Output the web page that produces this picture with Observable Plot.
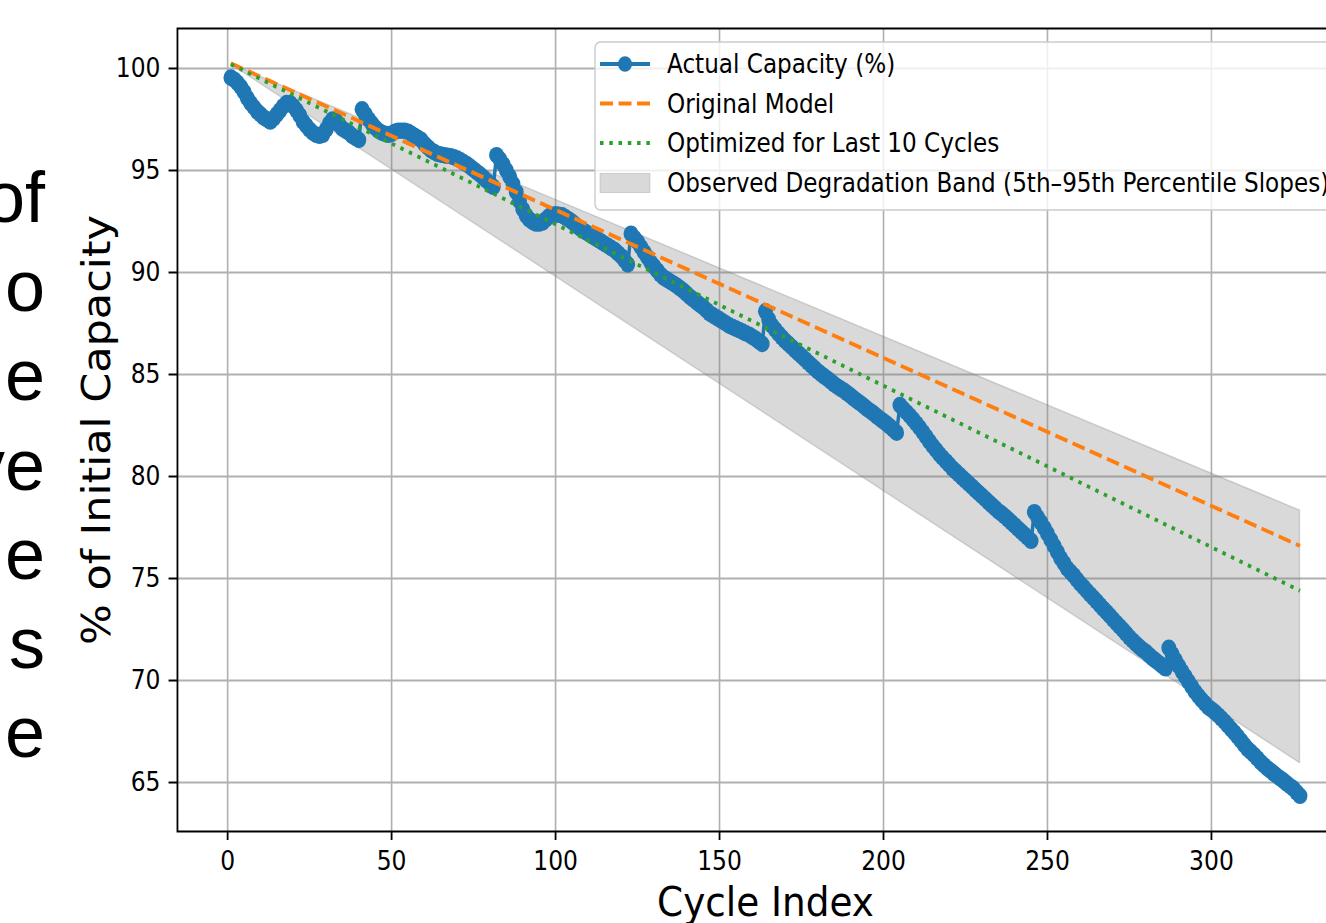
<!DOCTYPE html>
<html>
<head>
<meta charset="utf-8">
<script src="https://cdn.jsdelivr.net/npm/d3@7"></script>
<script src="https://cdn.jsdelivr.net/npm/@observablehq/plot@0.6"></script>
<style>
  html, body { margin: 0; padding: 0; width: 1326px; height: 923px; overflow: hidden; background: #fff; }
  #wrap { position: absolute; left: 0; top: 0; transform-origin: 0 0; }
  #legend, #frag { position: absolute; left: 0; top: 0; }
</style>
</head>
<body>
<svg id="frag" width="60" height="923"></svg>
<div id="wrap"></div>
<script>
// ---------- data ----------
const xTicks = [0, 50, 100, 150, 200, 250, 300];
const yTicks = [65, 70, 75, 80, 85, 90, 95, 100];

// Actual capacity (%) for cycles 1..327, one value per cycle, in 8 stretches of ~41 cycles
const capacitySeg1 = [99.55,99.45,99.3,99.1,98.85,98.55,98.3,98.1,97.9,97.75,97.6,97.5,97.4,97.55,97.75,97.95,98.15,98.3,98.3,98.15,
  97.95,97.7,97.4,97.2,97.0,96.85,96.75,96.7,96.75,97.0,97.3,97.5,97.45,97.25,97.05,96.95,96.85,96.7,96.6,96.5];
const capacitySeg2 = [98.0,97.75,97.5,97.3,97.1,96.95,96.85,96.8,96.75,96.8,96.9,96.95,96.95,96.95,96.9,96.8,96.7,96.6,96.5,96.3,
  96.15,96.0,95.9,95.82,95.78,95.75,95.72,95.7,95.65,95.58,95.5,95.4,95.3,95.18,95.05,94.92,94.8,94.65,94.5,94.35,94.2];
const capacitySeg3 = [95.75,95.55,95.3,95.0,94.7,94.35,93.95,93.5,93.1,92.8,92.6,92.48,92.4,92.4,92.45,92.6,92.75,92.82,92.85,92.83,
  92.8,92.7,92.6,92.48,92.35,92.22,92.1,92.0,91.9,91.8,91.7,91.6,91.5,91.4,91.3,91.2,91.1,90.95,90.8,90.6,90.4];
const capacitySeg4 = [91.9,91.7,91.5,91.25,91.0,90.75,90.5,90.3,90.1,89.9,89.75,89.65,89.55,89.45,89.35,89.22,89.1,88.95,88.8,88.68,
  88.55,88.42,88.3,88.15,88.0,87.9,87.8,87.7,87.6,87.5,87.4,87.32,87.25,87.18,87.1,87.02,86.95,86.85,86.75,86.62,86.5];
const capacitySeg5 = [88.1,87.7,87.4,87.2,87.0,86.82,86.65,86.5,86.35,86.2,86.05,85.9,85.75,85.6,85.45,85.3,85.15,85.02,84.9,84.78,
  84.65,84.52,84.4,84.3,84.2,84.08,83.95,83.82,83.7,83.58,83.45,83.32,83.2,83.08,82.95,82.82,82.7,82.58,82.45,82.3,82.15];
const capacitySeg6 = [83.5,83.32,83.15,82.98,82.8,82.6,82.4,82.18,81.95,81.72,81.5,81.3,81.1,80.92,80.75,80.58,80.4,80.25,80.1,79.95,
  79.8,79.65,79.5,79.35,79.2,79.05,78.9,78.75,78.6,78.45,78.3,78.18,78.05,77.9,77.75,77.6,77.45,77.3,77.15,77.0,76.85];
const capacitySeg7 = [78.25,78.0,77.75,77.48,77.2,76.9,76.6,76.3,76.0,75.75,75.5,75.32,75.15,74.95,74.75,74.58,74.4,74.22,74.05,73.88,
  73.7,73.52,73.35,73.18,73.0,72.82,72.65,72.48,72.3,72.12,71.95,71.8,71.65,71.52,71.4,71.25,71.1,70.98,70.85,70.72,70.6];
const capacitySeg8 = [71.6,71.3,71.0,70.72,70.45,70.2,69.95,69.7,69.45,69.25,69.05,68.88,68.7,68.58,68.45,68.3,68.15,67.98,67.8,67.62,
  67.45,67.25,67.05,66.85,66.65,66.5,66.35,66.18,66.0,65.85,65.7,65.58,65.45,65.32,65.2,65.08,64.95,64.82,64.7,64.52,64.35];
const firstCycle = 1;

const modelCycles = [1, 327];
const originalModel = [100.25, 76.6];
const optimizedModel = [100.2, 74.4];
const bandUpper = [100.2, 78.33];
const bandLower = [100.2, 65.95];

const legendLabels = [
  "Actual Capacity (%)",
  "Original Model",
  "Optimized for Last 10 Cycles",
  "Observed Degradation Band (5th\u201395th Percentile Slopes)"
];
const xLabel = "Cycle Index";
const yLabel = "% of Initial Capacity";
const slideFragments = ["of", "o", "e", "ve", "e", "s", "e"];

// ---------- layout ----------
const SX = 0.9;                 // horizontal squeeze of the reference picture
const W = 1360 / SX;
const H = 923;
const L = 177 / SX, R = (1360 - 1353) / SX, T = 28, B = 92;
const BLUE = "#1f77b4", ORANGE = "#ff7f0e", GREEN = "#2ca02c";

const capacity = [].concat(capacitySeg1, capacitySeg2, capacitySeg3, capacitySeg4,
  capacitySeg5, capacitySeg6, capacitySeg7, capacitySeg8);
const actual = capacity.map((v, i) => ({cycle: firstCycle + i, capacity: v}));
const models = modelCycles.map((c, i) => ({
  cycle: c, original: originalModel[i], optimized: optimizedModel[i],
  upper: bandUpper[i], lower: bandLower[i]
}));

const chart = Plot.plot({
  width: W, height: H,
  marginLeft: L, marginRight: R, marginTop: T, marginBottom: B,
  x: {domain: [-15.3, 343.3]},
  y: {domain: [62.6, 101.96]},
  style: {fontFamily: "DejaVu Sans", color: "#000", background: "transparent", overflow: "visible"},
  marks: [
    Plot.gridX(xTicks, {stroke: "#b0b0b0", strokeOpacity: 1, strokeWidth: 1.8}),
    Plot.gridY(yTicks, {stroke: "#b0b0b0", strokeOpacity: 1, strokeWidth: 1.8}),
    Plot.areaY(models, {x: "cycle", y1: "lower", y2: "upper", fill: "gray", fillOpacity: 0.3,
      stroke: "gray", strokeOpacity: 0.3, strokeWidth: 1.5}),
    Plot.line(actual, {x: "cycle", y: "capacity", stroke: BLUE, strokeWidth: 3.9}),
    Plot.dot(actual, {x: "cycle", y: "capacity", r: 8.3, fill: BLUE, stroke: null}),
    Plot.line(models, {x: "cycle", y: "original", stroke: ORANGE, strokeWidth: 3.9,
      strokeDasharray: "14.4,6.2", strokeLinecap: "butt"}),
    Plot.line(models, {x: "cycle", y: "optimized", stroke: GREEN, strokeWidth: 3.9,
      strokeDasharray: "3.9,6.4", strokeLinecap: "butt"}),
    Plot.axisX(xTicks, {tickSize: 9, tickPadding: 11.5, fontSize: 26, strokeWidth: 2, label: null, tickFormat: d => d}),
    Plot.axisY(yTicks, {tickSize: 9.4, tickPadding: 9.5, fontSize: 26, strokeWidth: 2, label: null, tickFormat: d => d}),
    Plot.frame({stroke: "#000", strokeWidth: 2}),
    Plot.text([xLabel], {frameAnchor: "bottom", lineAnchor: "bottom", textAnchor: "middle", dy: 85,
      fontSize: 41.5, fill: "#000"}),
    Plot.text([yLabel], {frameAnchor: "left", lineAnchor: "bottom", textAnchor: "middle", rotate: -90,
      dx: -(L - 109.5 / SX), fontSize: 43, fill: "#000"})
  ]
});

const wrap = document.getElementById("wrap");
wrap.style.width = W + "px";
wrap.style.height = H + "px";
wrap.style.transform = `scaleX(${SX})`;
wrap.appendChild(chart);

// ---------- legend (inside the axes, upper right) ----------
const lg = d3.select(wrap).append("svg")
  .attr("id", "legend").attr("width", W).attr("height", H)
  .style("font-family", "DejaVu Sans");
const bx = 595 / SX, by = 42, bh = 168;
lg.append("rect").attr("x", bx).attr("y", by).attr("width", W - bx + 40).attr("height", bh)
  .attr("rx", 6).attr("fill", "#fff").attr("fill-opacity", 0.8)
  .attr("stroke", "#cccccc").attr("stroke-width", 1.6);
const rowY = [64, 103.5, 143, 183];
const hx0 = 600 / SX, hx1 = 650 / SX, tx = 667 / SX;
lg.append("line").attr("x1", hx0).attr("x2", hx1).attr("y1", rowY[0]).attr("y2", rowY[0])
  .attr("stroke", BLUE).attr("stroke-width", 3.9);
lg.append("circle").attr("cx", (hx0 + hx1) / 2).attr("cy", rowY[0]).attr("r", 7.8).attr("fill", BLUE);
lg.append("line").attr("x1", hx0).attr("x2", hx1).attr("y1", rowY[1]).attr("y2", rowY[1])
  .attr("stroke", ORANGE).attr("stroke-width", 3.9).attr("stroke-dasharray", "14.4,6.2");
lg.append("line").attr("x1", hx0).attr("x2", hx1).attr("y1", rowY[2]).attr("y2", rowY[2])
  .attr("stroke", GREEN).attr("stroke-width", 3.9).attr("stroke-dasharray", "3.9,6.4");
lg.append("rect").attr("x", hx0).attr("y", rowY[3] - 9.5).attr("width", hx1 - hx0).attr("height", 19)
  .attr("fill", "gray").attr("fill-opacity", 0.3).attr("stroke", "gray").attr("stroke-opacity", 0.3);
legendLabels.forEach((t, i) => {
  lg.append("text").attr("x", tx).attr("y", rowY[i]).attr("dy", "0.36em")
    .attr("font-size", 25.7).attr("fill", "#000").text(t);
});

// ---------- cut-off slide text at the far left ----------
const fr = d3.select("#frag").style("font-family", "Liberation Sans, Arial, sans-serif");
slideFragments.forEach((t, i) => {
  fr.append("text").attr("x", 45).attr("y", 222 + i * 89.2).attr("text-anchor", "end")
    .attr("font-size", 72).attr("fill", "#000").text(t);
});
</script>
</body>
</html>
